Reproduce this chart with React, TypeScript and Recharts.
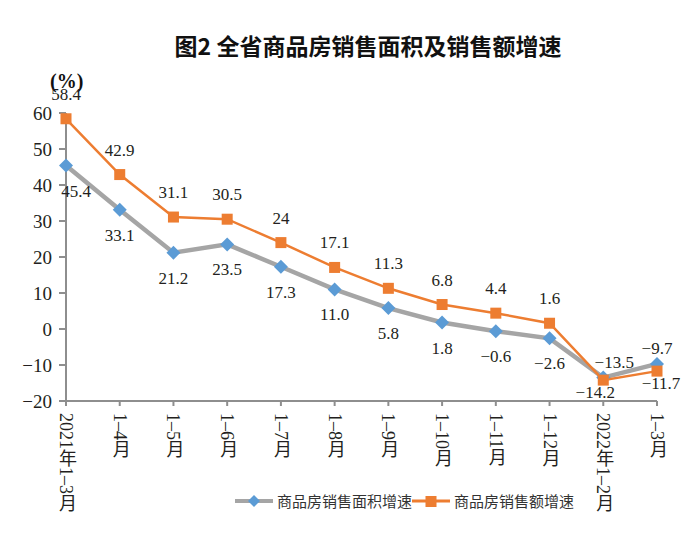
import React from 'react';
import { LineChart, Line, XAxis, YAxis, Legend, LabelList } from 'recharts';

const periods = [
  '2021年1–3月', '1–4月', '1–5月', '1–6月', '1–7月', '1–8月',
  '1–9月', '1–10月', '1–11月', '1–12月', '2022年1–2月', '1–3月',
];
const areaGrowth = [45.4, 33.1, 21.2, 23.5, 17.3, 11.0, 5.8, 1.8, -0.6, -2.6, -13.5, -9.7];
const salesGrowth = [58.4, 42.9, 31.1, 30.5, 24, 17.1, 11.3, 6.8, 4.4, 1.6, -14.2, -11.7];
const yTicks = [-20, -10, 0, 10, 20, 30, 40, 50, 60];

const AREA_NAME = '商品房销售面积增速';
const SALES_NAME = '商品房销售额增速';

const GRAY = '#a5a5a5';
const BLUE = '#5b9bd5';
const ORANGE = '#ed7d31';
const AXIS = '#8e8e8e';
const TEXT = '#231f20';
const SERIF = "'Liberation Serif', 'Noto Sans CJK SC', serif";
const CJK = "'Noto Sans CJK SC', sans-serif";

const chartData = periods.map((p, i) => ({ period: p, area: areaGrowth[i], sales: salesGrowth[i] }));

const minus = (s: string) => s.replace('-', '\u2212');

const Diamond = ({ cx, cy }: any) => {
  if (cx == null || cy == null) return null;
  const r = 7;
  return <polygon points={`${cx},${cy - r} ${cx + r},${cy} ${cx},${cy + r} ${cx - r},${cy}`} fill={BLUE} />;
};

const Square = ({ cx, cy }: any) => {
  if (cx == null || cy == null) return null;
  return <rect x={cx - 5.5} y={cy - 5.5} width={11} height={11} fill={ORANGE} />;
};

// gray labels sit under the line, except the last two months of 2022
const AreaLabel = ({ x, y, value, index }: any) => {
  const above = index >= 10;
  const dx = index === 0 ? 10 : index === 10 ? 11 : 0;
  return (
    <text x={x + dx} y={above ? y - 10 : y + 31} textAnchor="middle" fontSize={17} fontFamily={SERIF} fill={TEXT}>
      {minus(Number(value).toFixed(1))}
    </text>
  );
};

// orange labels sit above the line, except 2022 where they drop below
const SalesLabel = ({ x, y, value, index }: any) => {
  const below = index >= 10;
  const dx = index === 10 ? -8 : index === 11 ? 4 : 0;
  return (
    <text x={x + dx} y={below ? y + 18 : y - 19} textAnchor="middle" fontSize={17} fontFamily={SERIF} fill={TEXT}>
      {minus(String(value))}
    </text>
  );
};

const PeriodTick = ({ x, y, payload }: any) => (
  <text
    x={x}
    y={y}
    textAnchor="start"
    fontSize={18}
    fontFamily={SERIF}
    fill={TEXT}
    style={{ writingMode: 'vertical-rl' } as any}
  >
    {payload.value}
  </text>
);

const LegendContent = () => {
  const items = [
    { name: AREA_NAME, line: GRAY, width: 4, mark: 'diamond' },
    { name: SALES_NAME, line: ORANGE, width: 3, mark: 'square' },
  ];
  return (
    <div style={{ display: 'flex', alignItems: 'center' }}>
      {items.map(it => (
        <div key={it.name} style={{ display: 'flex', alignItems: 'center' }}>
          <svg width={38} height={16} style={{ marginRight: 4 }}>
            <line x1={0} y1={8} x2={38} y2={8} stroke={it.line} strokeWidth={it.width} />
            {it.mark === 'diamond' ? (
              <polygon points="19,2 25,8 19,14 13,8" fill={BLUE} />
            ) : (
              <rect x={13.5} y={3} width={11} height={11} fill={ORANGE} />
            )}
          </svg>
          <span style={{ fontFamily: CJK, fontSize: 15, color: '#333', whiteSpace: 'nowrap' }}>{it.name}</span>
        </div>
      ))}
    </div>
  );
};

export default function App() {
  return (
    <div style={{ position: 'absolute', left: 0, top: 0, width: 700, height: 542, background: '#fff' }}>
      <div
        style={{
          position: 'absolute', left: 0, width: 700, top: 28, textAlign: 'center', paddingLeft: 36,
          boxSizing: 'border-box', fontFamily: CJK, fontWeight: 700, fontSize: 23, color: '#111',
        }}
      >
        图2 全省商品房销售面积及销售额增速
      </div>
      <div
        style={{
          position: 'absolute', left: 50, top: 70, fontFamily: SERIF, fontWeight: 700, fontSize: 20, color: '#111',
        }}
      >
        (%)
      </div>
      <LineChart width={700} height={542} data={chartData} margin={{ top: 113, right: 43, bottom: 11, left: 10 }}>
        <XAxis
          dataKey="period"
          interval={0}
          height={130}
          stroke={AXIS}
          strokeWidth={2}
          tickSize={5}
          tickMargin={7}
          tick={<PeriodTick />}
        />
        <YAxis
          type="number"
          domain={[-20, 60]}
          ticks={yTicks}
          interval={0}
          width={56}
          stroke={AXIS}
          strokeWidth={2}
          tickSize={7}
          tickMargin={7}
          tick={{ fontSize: 19, fontFamily: SERIF, fill: TEXT }}
          tickFormatter={(v: number) => minus(String(v))}
        />
        <Legend
          verticalAlign="middle"
          align="center"
          layout="horizontal"
          content={<LegendContent />}
          wrapperStyle={{ position: 'absolute', left: 235, top: 490, width: 400 }}
        />
        <Line
          dataKey="area"
          name={AREA_NAME}
          stroke={GRAY}
          strokeWidth={4.5}
          dot={<Diamond />}
          activeDot={false}
          isAnimationActive={false}
        >
          <LabelList dataKey="area" content={<AreaLabel />} />
        </Line>
        <Line
          dataKey="sales"
          name={SALES_NAME}
          stroke={ORANGE}
          strokeWidth={2.5}
          dot={<Square />}
          activeDot={false}
          isAnimationActive={false}
        >
          <LabelList dataKey="sales" content={<SalesLabel />} />
        </Line>
      </LineChart>
    </div>
  );
}
